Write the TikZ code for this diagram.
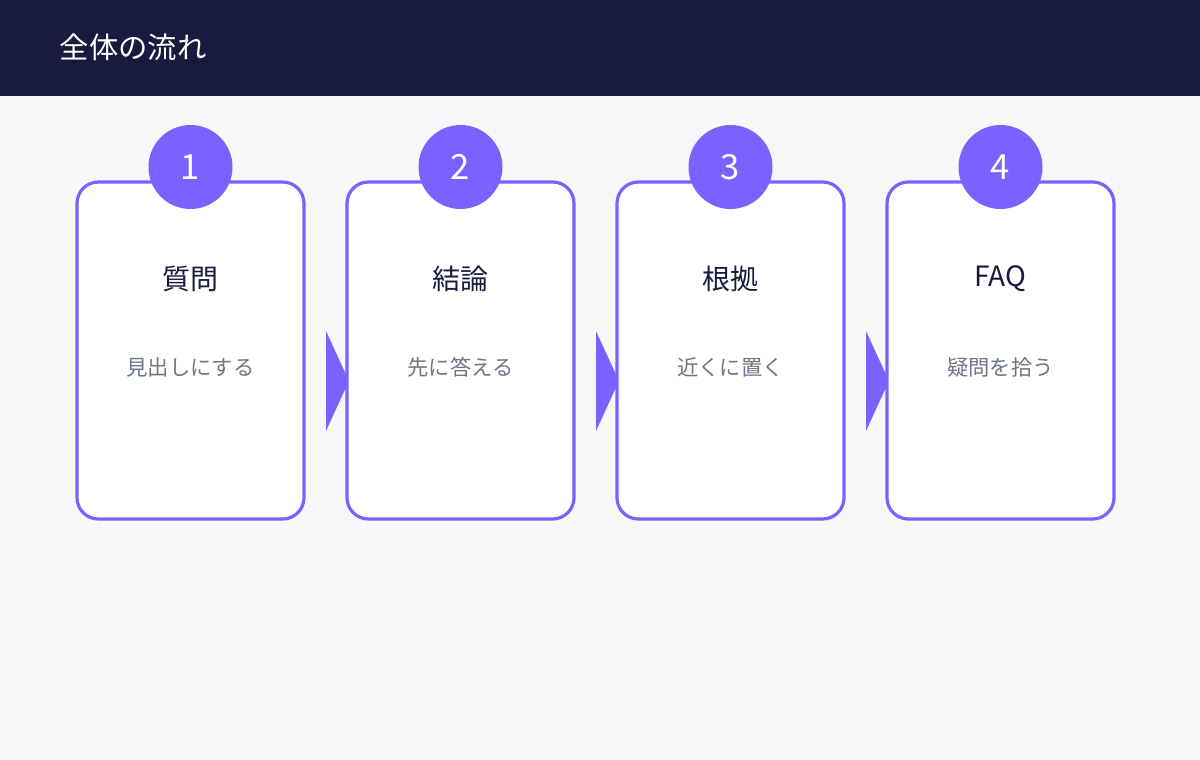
\documentclass[tikz,border=0pt]{standalone}
\usepackage{fontspec}
\newfontfamily\cjk{Noto Sans CJK JP}
\definecolor{navy}{HTML}{181A3E}
\definecolor{violet}{HTML}{7B61FF}
\definecolor{paper}{HTML}{F7F8FA}
\definecolor{muted}{HTML}{70738A}
\tikzset{
  card/.style={draw=violet, line width=2.4pt, fill=white, rounded corners=16pt},
  badge/.style={circle, fill=violet, minimum size=63pt, inner sep=0pt, text=white, font=\cjk\fontsize{26}{26}\selectfont},
  headline/.style={text=navy, font=\cjk\fontsize{21}{21}\selectfont},
  subline/.style={text=muted, font=\cjk\fontsize{16}{16}\selectfont}
}
\begin{document}
\begin{tikzpicture}[x=0.75pt,y=-0.75pt]
    \fill[paper] (0,0) rectangle (1200,760);
    \useasboundingbox (0,0) rectangle (1200,760);
    \fill[navy] (0,0) rectangle (1200,96);
    \node[anchor=west, text=white, font=\cjk\fontsize{22}{22}\selectfont] (title) at (55,47) {全体の流れ};
    % arrows between cards
    \foreach \x [count=\i] in {326,596,866}
        \fill[violet] (\x,331) -- (\x+23,381) -- (\x,431) -- cycle;
    % cards
    \foreach \x/\n/\h/\s in {77/1/質問/見出しにする, 347/2/結論/先に答える, 617/3/根拠/近くに置く, 887/4/FAQ/疑問を拾う} {
        \draw[card] (\x,182) rectangle (\x+227,519);
        \node[badge] (badge\n) at (\x+113.5,167) {\n};
        \node[headline] (head\n) at (\x+113.5,279) {\h};
        \node[subline] (sub\n) at (\x+113.5,367) {\s};
    }
\end{tikzpicture}
\end{document}
